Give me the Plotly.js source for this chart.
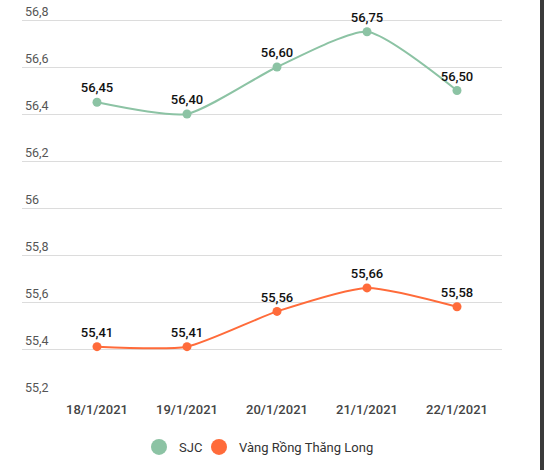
<!DOCTYPE html>
<html>
<head>
<meta charset="utf-8">
<script src="https://cdn.plot.ly/plotly-3.0.1.min.js"></script>
<style>
html,body{margin:0;padding:0;background:#fff;}
#chart{width:544px;height:470px;}
#edge{position:absolute;top:0;right:0;width:4px;height:470px;background:#3a3a3a;}
</style>
</head>
<body>
<div id="chart"></div>
<div id="edge"></div>
<script>
const categories = ["18/1/2021", "19/1/2021", "20/1/2021", "21/1/2021", "22/1/2021"];
const sjcValues = [56.45, 56.40, 56.60, 56.75, 56.50];
const vrtlValues = [55.41, 55.41, 55.56, 55.66, 55.58];
const seriesNames = ["SJC", "Vàng Rồng Thăng Long"];
const yTicks = [55.2, 55.4, 55.6, 55.8, 56, 56.2, 56.4, 56.6, 56.8];

const green = "#8cc3a4";
const orange = "#ff6b3a";
const fmt = v => v.toFixed(2).replace(".", ",");

function lineTrace(vals, color) {
  return {
    x: categories, y: vals, type: "scatter", mode: "lines+markers+text",
    line: {color: color, width: 2, shape: "spline", smoothing: 0.6},
    marker: {color: color, size: 9},
    text: vals.map(fmt), textposition: "top center",
    textfont: {family: "Roboto", size: 13, color: "#111", weight: 500},
    cliponaxis: false, showlegend: false, hoverinfo: "skip"
  };
}
function legendTrace(name, color, legendId) {
  return {
    x: [null], y: [null], type: "scatter", mode: "markers", name: name,
    marker: {color: color, size: 16}, showlegend: true, legend: legendId
  };
}

const data = [
  lineTrace(sjcValues, green),
  lineTrace(vrtlValues, orange),
  legendTrace(seriesNames[0], green, "legend"),
  legendTrace(seriesNames[1], orange, "legend2")
];

// 56.8 at y=20, 55.2 at y=396
const pxPerUnit = 376 / 1.6;
const yTop = 56.8 + 20 / pxPerUnit;
const yBot = 55.2 - 1 / pxPerUnit;
const plotH = 397;

const legFont = {family: "Roboto", size: 13, color: "#333"};
const legY = -(432 - plotH) / plotH;
const layout = {
  width: 544, height: 470,
  margin: {l: 22, r: 42, t: 0, b: 73},
  paper_bgcolor: "#fff", plot_bgcolor: "#fff",
  separators: ", ",
  font: {family: "Roboto", size: 12, color: "#555"},
  xaxis: {
    type: "category", range: [-0.8333, 4.5],
    showgrid: false, zeroline: false, showline: false, ticks: "",
    ticklabelstandoff: 3,
    tickfont: {family: "Roboto", size: 13, color: "#444", weight: 500},
    fixedrange: true
  },
  yaxis: {
    range: [yBot, yTop], tickvals: yTicks,
    ticktext: yTicks.map(v => String(v).replace(".", ",")),
    ticklabelposition: "inside top",
    showgrid: true, gridcolor: "#dcdcdc", gridwidth: 1,
    zeroline: false, showline: false, ticks: "",
    tickfont: {family: "Roboto", size: 12.5, color: "#555"},
    fixedrange: true
  },
  legend: {
    orientation: "h", x: (139 - 22) / 480, xanchor: "left",
    y: legY, yanchor: "top", font: legFont, bgcolor: "rgba(0,0,0,0)"
  },
  legend2: {
    orientation: "h", x: (199 - 22) / 480, xanchor: "left",
    y: legY, yanchor: "top", font: legFont, bgcolor: "rgba(0,0,0,0)"
  },
  showlegend: true
};

Plotly.newPlot("chart", data, layout, {displayModeBar: false, staticPlot: true});
</script>
</body>
</html>
